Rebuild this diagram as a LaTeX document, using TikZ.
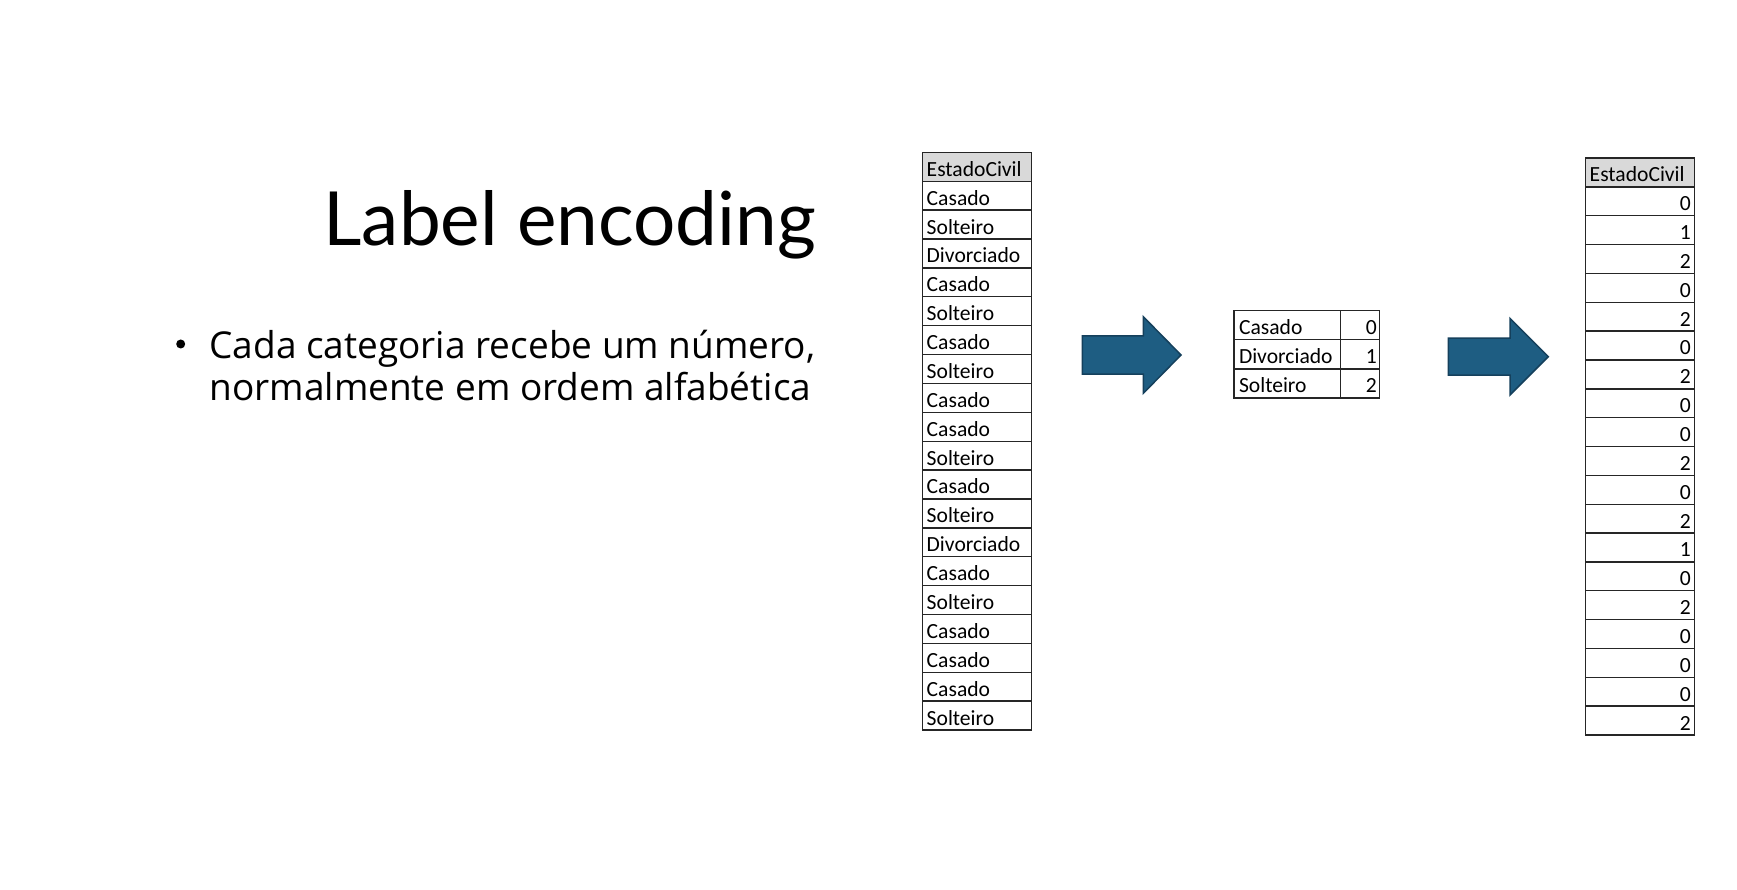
\documentclass[tikz,border=0pt]{standalone}
\usepackage{fontspec}
\setmainfont{Lato}
\newfontfamily\bodyfont{Open Sans}
\newfontfamily\cellfont{Carlito}
\definecolor{arrowfill}{RGB}{30,93,130}
\definecolor{arrowedge}{RGB}{21,64,92}
\definecolor{headgray}{RGB}{217,217,217}
\definecolor{gridline}{RGB}{38,38,38}
\tikzset{
  cell/.style={draw=gridline, line width=1.4pt, inner ysep=0pt,
    text height=20pt, text depth=1.1pt, anchor=north west,
    font=\cellfont\fontsize{21.6}{24}\selectfont},
  % left column of categories
  catcell/.style={cell, minimum height=28.88pt, inner xsep=4pt, text width=100.5pt, align=left},
  % encoded column
  numcell/.style={cell, minimum height=28.85pt, inner xsep=3.5pt, text width=101.5pt, align=right},
  numhead/.style={cell, minimum height=28.85pt, inner xsep=4pt, text width=100.5pt, align=left, fill=headgray},
  % mapping table
  keycell/.style={cell, minimum height=29.1pt, inner xsep=5pt, text width=96.7pt, align=left},
  valcell/.style={cell, minimum height=29.1pt, inner xsep=3pt, text width=33pt, align=right},
  bodytext/.style={anchor=base west, inner sep=0pt, font=\bodyfont\fontsize{37}{42}\selectfont},
  blockarrow/.style={fill=arrowfill, draw=arrowedge, line width=1.5pt, line join=miter}
}
\begin{document}
\begin{tikzpicture}[x=1pt,y=-1pt]
  \fill[white] (0,0) rectangle (1737,890);
  \useasboundingbox (0,0) rectangle (1737,890);

  % title and bullet text
  \node[anchor=base east, inner sep=0pt, font=\fontsize{74.7}{80}\selectfont] (title) at (816,246) {Label encoding};
  \node[circle, fill=black, inner sep=0pt, minimum size=9pt] (dot) at (180.7,344) {};
  \node[bodytext] (line1) at (209.3,358.3) {Cada categoria recebe um número,};
  \node[bodytext] (line2) at (209.3,400.3) {normalmente em ordem alfabética};

  % original column
  \node[catcell, fill=headgray] (l0) at (922,151.7) {EstadoCivil};
  \foreach \t [count=\i] in {Casado,Solteiro,Divorciado,Casado,Solteiro,Casado,Solteiro,Casado,Casado,Solteiro,Casado,Solteiro,Divorciado,Casado,Solteiro,Casado,Casado,Casado,Solteiro}
    \node[catcell] (l\i) at (922,{151.7+28.88*\i}) {\t};

  % mapping table
  \foreach \k/\v [count=\i from 0] in {Casado/0,Divorciado/1,Solteiro/2} {
    \node[keycell] (k\i) at (1233.3,{310+29.1*\i}) {\k};
    \node[valcell] (v\i) at (1340,{310+29.1*\i}) {\v};
  }

  % encoded column
  \node[numhead] (r0) at (1585,157.3) {EstadoCivil};
  \foreach \t [count=\i] in {0,1,2,0,2,0,2,0,0,2,0,2,1,0,2,0,0,0,2}
    \node[numcell] (r\i) at (1585,{157.3+28.85*\i}) {\t};

  % block arrows
  \draw[blockarrow] (1082.3,335.8) -- (1143.3,335.8) -- (1143.3,316.7) -- (1181,355)
    -- (1143.3,393.3) -- (1143.3,374.2) -- (1082.3,374.2) -- cycle;
  \draw[blockarrow] (1448.3,338.2) -- (1510,338.2) -- (1510,318.4) -- (1548.3,356.7)
    -- (1510,395) -- (1510,375.2) -- (1448.3,375.2) -- cycle;
\end{tikzpicture}
\end{document}
